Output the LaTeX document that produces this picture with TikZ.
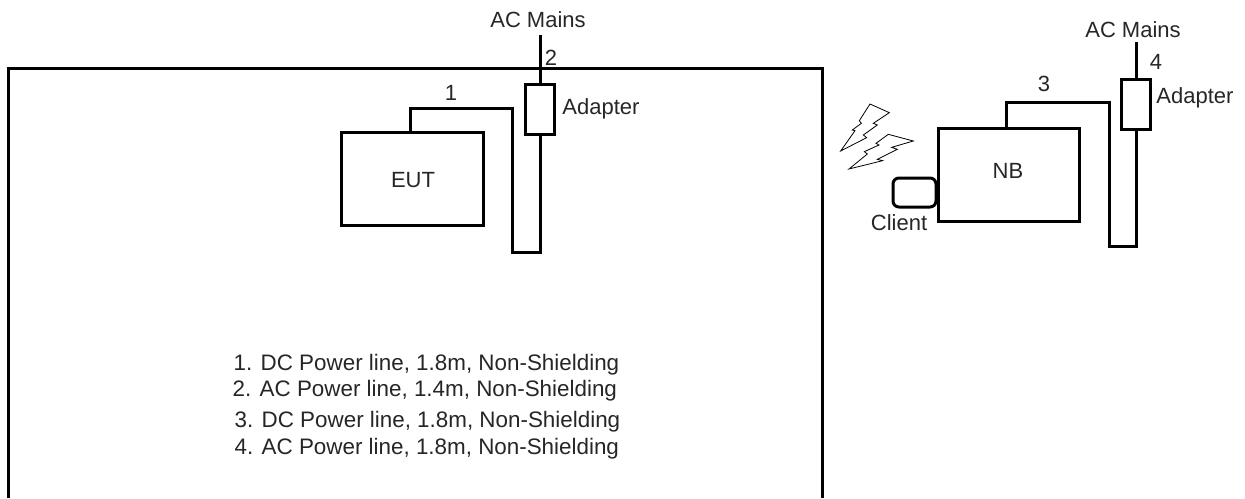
\documentclass[tikz,border=0pt]{standalone}
\usepackage{fontspec}
\setmainfont{Liberation Sans}
\begin{document}
\begin{tikzpicture}[x=1pt,y=-1pt,
  line/.style={draw=black,line width=3pt},
  box/.style={line,inner sep=0pt,anchor=north west},
  lbl/.style={inner sep=0pt,text=black!85,font=\fontsize{22}{26}\selectfont},
  legend/.style={inner sep=0pt,anchor=west,text=black!85,font=\fontsize{22.4}{26}\selectfont},
  bolt/.style={draw=black,line width=0.8pt,line join=miter}]
\useasboundingbox (0,0) rectangle (1245,498);
% room, open at the bottom edge of the picture
\coordinate (rbl) at (8,498);
\coordinate (rtl) at (8,68);
\coordinate (rtr) at (822.5,68);
\coordinate (rbr) at (822.5,498);
\draw[line] (rbl) -- (rtl) -- (rtr) -- (rbr);
% left set-up
\node[box,minimum width=142pt,minimum height=93pt] (eut) at (340,131) {};
\node[lbl] (eutl) at (413,180) {EUT};
\node[box,minimum width=29pt,minimum height=50pt] (ad1) at (524,83) {};
\coordinate (m1) at (ad1.north |- 0,35);
\draw[line] (m1) -- (ad1.north);
\coordinate (c1a) at (410,108);
\coordinate (c1b) at (512,108);
\coordinate (c1c) at (512,252);
\draw[line] (eut.north -| c1a) -- (c1a) -- (c1b) -- (c1c) -- (ad1.south |- c1c) -- (ad1.south);
\node[lbl] (acm1) at (538,20) {AC Mains};
\node[lbl] (n2) at (551,58) {2};
\node[lbl] (n1) at (451,93) {1};
\node[lbl] (adl1) at (601,108.5) {Adapter};
% right set-up
\node[box,minimum width=141pt,minimum height=93pt] (nb) at (936.5,126.5) {};
\node[lbl] (nbl) at (1008,171) {NB};
\node[box,minimum width=29pt,minimum height=50pt] (ad2) at (1120,78) {};
\coordinate (m2) at (ad2.north |- 0,42);
\draw[line] (m2) -- (ad2.north);
\coordinate (c3a) at (1006,102);
\coordinate (c3b) at (1109,102);
\coordinate (c3c) at (1109,246);
\draw[line] (nb.north -| c3a) -- (c3a) -- (c3b) -- (c3c) -- (ad2.south |- c3c) -- (ad2.south);
\node[box,rounded corners=6pt,minimum width=43pt,minimum height=29pt] (cl) at (891.5,176.5) {};
\node[lbl] (cll) at (899,223) {Client};
\node[lbl] (acm2) at (1133,30) {AC Mains};
\node[lbl] (n4) at (1156,62) {4};
\node[lbl] (n3) at (1044,84) {3};
\node[lbl] (adl2) at (1195,98) {Adapter};
% wireless bolts
\begin{scope}[shift={(820,90)},x=0.3333pt,y=-0.3333pt]
\draw[bolt] (62,183) -- (105,122) -- (97,120) -- (124,100) -- (118,92) -- (150,42) -- (208,68) -- (160,100) -- (172,105) -- (130,135) -- (140,143) -- cycle;
\draw[bolt] (87,237) -- (142,192) -- (133,185) -- (177,165) -- (168,160) -- (205,133) -- (280,153) -- (215,172) -- (232,178) -- (172,208) -- (188,212) -- cycle;
\end{scope}
% legend
\node[legend] (l1) at (233.5,364.5) {1. DC Power line, 1.8m, Non-Shielding};
\node[legend] (l2) at (232.5,390.5) {2. AC Power line, 1.4m, Non-Shielding};
\node[legend] (l3) at (234.5,421.5) {3. DC Power line, 1.8m, Non-Shielding};
\node[legend] (l4) at (234.5,448.5) {4. AC Power line, 1.8m, Non-Shielding};
\end{tikzpicture}
\end{document}
